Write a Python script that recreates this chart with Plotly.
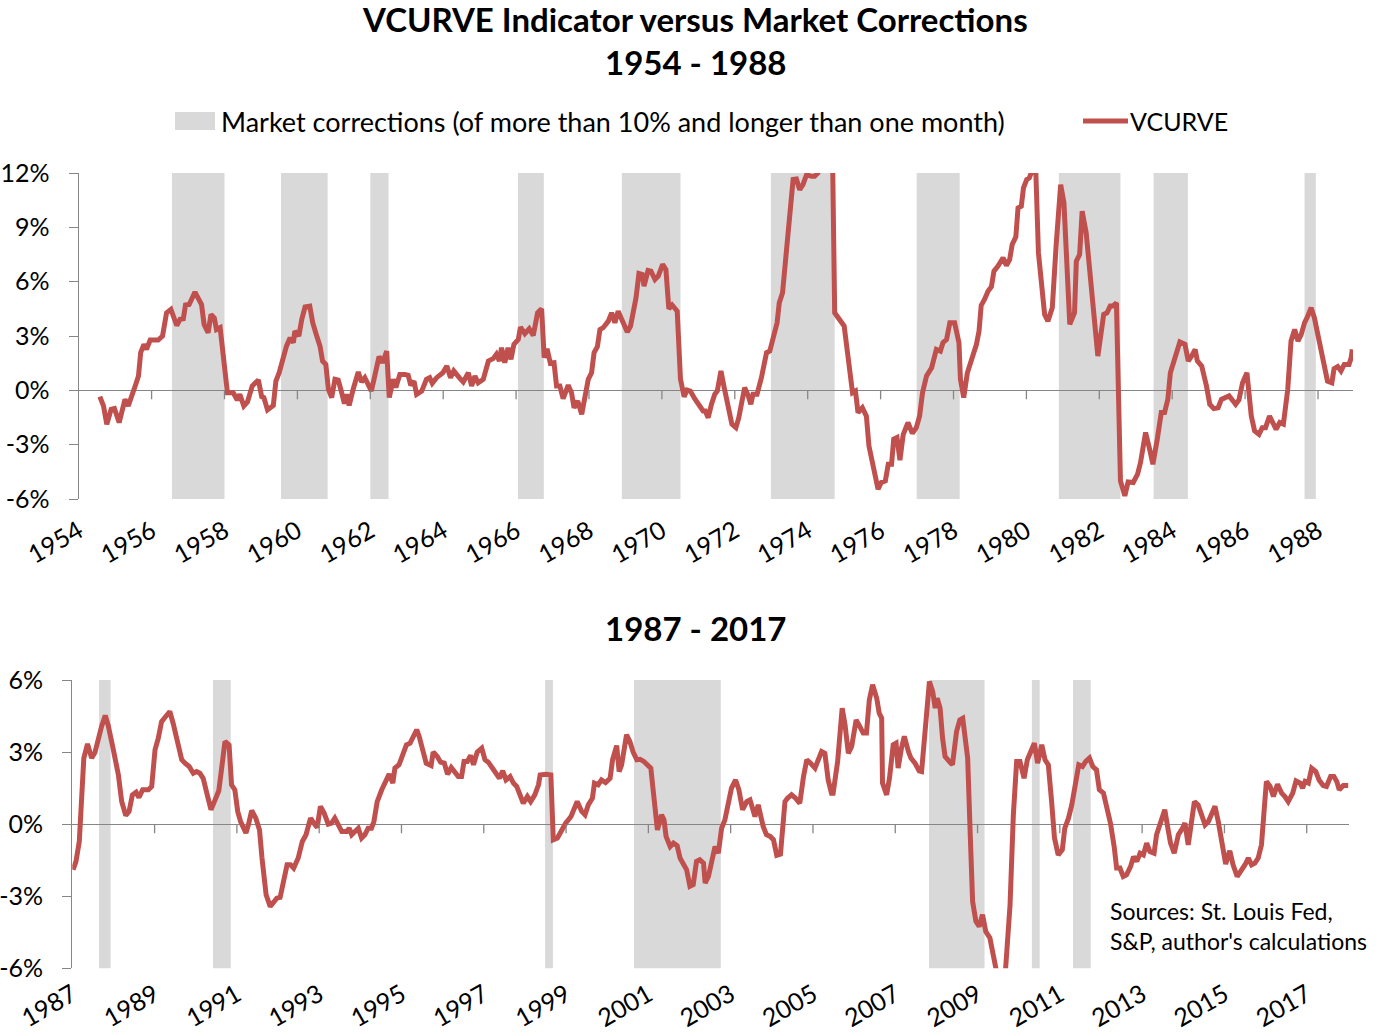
import plotly.graph_objects as go

# VCURVE readings, 1954-1988 panel (decimal year, percent)
top_years = [
    1954.58, 1954.68, 1954.77, 1954.89, 1954.98, 1955.11, 1955.27, 1955.36, 1955.55, 1955.64,
    1955.70, 1955.79, 1955.86, 1955.96, 1956.18, 1956.30, 1956.41, 1956.53, 1956.69, 1956.78,
    1956.87, 1956.93, 1957.03, 1957.19, 1957.37, 1957.44, 1957.55, 1957.63, 1957.72, 1957.78,
    1957.88, 1957.97, 1958.08, 1958.24, 1958.35, 1958.42, 1958.53, 1958.63, 1958.76, 1958.93,
    1959.02, 1959.08, 1959.18, 1959.34, 1959.41, 1959.50, 1959.59, 1959.70, 1959.80, 1959.89,
    1959.93, 1960.04, 1960.12, 1960.21, 1960.34, 1960.42, 1960.53, 1960.62, 1960.69, 1960.78,
    1960.85, 1960.94, 1961.03, 1961.12, 1961.19, 1961.29, 1961.35, 1961.42, 1961.53, 1961.67,
    1961.76, 1961.85, 1962.03, 1962.13, 1962.24, 1962.34, 1962.45, 1962.52, 1962.63, 1962.70,
    1962.81, 1962.95, 1963.04, 1963.11, 1963.20, 1963.27, 1963.41, 1963.54, 1963.63, 1963.70,
    1963.82, 1963.99, 1964.10, 1964.20, 1964.29, 1964.44, 1964.55, 1964.69, 1964.78, 1964.87,
    1964.96, 1965.10, 1965.24, 1965.37, 1965.46, 1965.54, 1965.60, 1965.69, 1965.78, 1965.86,
    1965.94, 1966.06, 1966.12, 1966.24, 1966.36, 1966.47, 1966.59, 1966.70, 1966.77, 1966.85,
    1966.94, 1967.04, 1967.11, 1967.20, 1967.29, 1967.43, 1967.52, 1967.59, 1967.69, 1967.80,
    1967.89, 1967.98, 1968.07, 1968.14, 1968.23, 1968.30, 1968.39, 1968.53, 1968.62, 1968.71,
    1968.80, 1968.92, 1969.05, 1969.14, 1969.29, 1969.37, 1969.46, 1969.51, 1969.62, 1969.70,
    1969.81, 1969.90, 1970.02, 1970.11, 1970.19, 1970.28, 1970.42, 1970.51, 1970.61, 1970.69,
    1970.78, 1970.90, 1971.02, 1971.13, 1971.19, 1971.27, 1971.36, 1971.45, 1971.52, 1971.62,
    1971.70, 1971.81, 1971.92, 1972.03, 1972.11, 1972.18, 1972.27, 1972.37, 1972.44, 1972.50,
    1972.61, 1972.73, 1972.87, 1972.96, 1973.08, 1973.16, 1973.22, 1973.31, 1973.42, 1973.51,
    1973.60, 1973.69, 1973.78, 1973.87, 1973.97, 1974.10, 1974.19, 1974.28, 1974.40, 1974.55,
    1974.68, 1974.74, 1974.88, 1975.00, 1975.11, 1975.23, 1975.31, 1975.38, 1975.50, 1975.61,
    1975.68, 1975.80, 1975.93, 1976.02, 1976.13, 1976.21, 1976.30, 1976.36, 1976.45, 1976.53,
    1976.62, 1976.75, 1976.87, 1976.98, 1977.07, 1977.15, 1977.26, 1977.40, 1977.53, 1977.64,
    1977.71, 1977.81, 1977.90, 1978.03, 1978.15, 1978.19, 1978.28, 1978.38, 1978.49, 1978.63,
    1978.70, 1978.76, 1978.85, 1978.95, 1979.04, 1979.11, 1979.22, 1979.36, 1979.45, 1979.54,
    1979.61, 1979.71, 1979.77, 1979.86, 1979.92, 1980.01, 1980.08, 1980.13, 1980.17, 1980.25,
    1980.33, 1980.41, 1980.50, 1980.59, 1980.71, 1980.82, 1980.94, 1981.03, 1981.09, 1981.19,
    1981.32, 1981.37, 1981.46, 1981.53, 1981.64, 1981.77, 1981.87, 1981.96, 1982.12, 1982.21,
    1982.30, 1982.37, 1982.47, 1982.58, 1982.70, 1982.79, 1982.93, 1983.05, 1983.13, 1983.27,
    1983.38, 1983.47, 1983.59, 1983.70, 1983.79, 1983.88, 1983.95, 1984.07, 1984.21, 1984.35,
    1984.44, 1984.53, 1984.63, 1984.69, 1984.81, 1984.94, 1985.03, 1985.14, 1985.26, 1985.35,
    1985.47, 1985.56, 1985.67, 1985.74, 1985.83, 1985.93, 1986.05, 1986.17, 1986.26, 1986.38,
    1986.47, 1986.56, 1986.67, 1986.76, 1986.85, 1986.95, 1987.05, 1987.17, 1987.26, 1987.36,
    1987.45, 1987.54, 1987.63, 1987.72, 1987.81, 1987.90, 1988.04, 1988.15, 1988.26, 1988.38,
    1988.44, 1988.54, 1988.63, 1988.72, 1988.85, 1988.91, 1988.94,
]
top_vcurve = [
    -0.35, -0.86, -1.87, -1.05, -1.00, -1.78, -0.50, -0.86, 0.24, 0.79,
    2.08, 2.54, 2.26, 2.78, 2.78, 3.00, 4.28, 4.47, 3.58, 3.92,
    3.95, 4.71, 4.74, 5.42, 4.74, 3.64, 3.18, 4.19, 4.00, 3.36,
    3.46, 1.71, -0.13, -0.13, -0.53, -0.22, -0.86, -0.64, 0.24, 0.57,
    -0.35, -0.40, -1.08, -0.83, 0.51, 0.97, 1.71, 2.44, 2.90, 2.63,
    3.27, 3.00, 3.92, 4.60, 4.65, 3.73, 3.00, 2.44, 1.62, 1.43,
    0.06, -0.40, 0.61, 0.57, 0.06, -0.74, -0.22, -0.83, 0.06, 1.01,
    0.46, 0.70, -0.04, 0.79, 1.86, 1.53, 2.17, -0.40, 0.61, 0.15,
    0.88, 0.88, 0.83, 0.28, 0.51, -0.22, -0.04, 0.61, 0.70, 0.39,
    0.70, 0.97, 1.34, 0.70, 1.07, 0.70, 0.46, 0.97, 0.24, 0.79,
    0.42, 0.61, 1.62, 1.75, 1.99, 1.62, 2.35, 1.53, 2.35, 1.71,
    2.54, 2.81, 3.49, 3.13, 3.40, 3.03, 4.28, 4.50, 1.80, 2.30,
    1.49, 1.53, 0.24, 0.24, -0.46, 0.28, -0.13, -0.96, -0.59, -1.32,
    -0.50, 0.61, 0.97, 2.08, 2.41, 3.36, 3.46, 3.82, 4.28, 3.73,
    4.37, 3.88, 3.22, 3.55, 5.11, 6.45, 6.40, 5.75, 6.62, 6.58,
    6.12, 6.31, 6.95, 6.67, 4.50, 4.71, 4.37, 0.61, -0.35, 0.02,
    -0.04, -0.46, -0.86, -1.14, -1.14, -1.51, -0.77, -0.22, -0.04, 1.07,
    0.24, -0.86, -1.87, -2.06, -1.51, -0.77, 0.15, -0.31, -0.77, -0.22,
    -0.22, 0.70, 2.08, 2.17, 3.18, 3.73, 4.83, 5.39, 7.78, 9.71,
    11.64, 11.67, 11.08, 11.36, 11.91, 11.82, 11.82, 12.00, 12.90, 13.40,
    13.20, 4.28, 3.92, 3.55, 1.80, -0.13, -0.04, -1.23, -0.96, -1.42,
    -3.07, -4.17, -5.46, -5.09, -5.00, -4.08, -4.08, -2.70, -2.61, -3.85,
    -2.45, -1.78, -2.37, -2.06, -1.42, -0.13, 0.79, 1.25, 2.26, 2.17,
    2.63, 2.81, 3.73, 3.73, 2.63, 0.61, -0.40, 0.97, 1.71, 2.54,
    3.27, 4.69, 5.02, 5.48, 5.72, 6.58, 6.86, 7.32, 6.89, 7.22,
    8.05, 8.47, 10.07, 10.17, 11.18, 11.64, 11.73, 12.00, 12.50, 12.60,
    7.60, 6.12, 4.19, 3.82, 4.56, 8.14, 11.36, 10.35, 7.41, 3.64,
    4.28, 7.13, 7.50, 9.89, 8.69, 6.12, 3.55, 1.89, 4.19, 4.28,
    4.65, 4.65, 4.83, -5.00, -5.83, -5.06, -5.09, -4.63, -3.99, -2.33,
    -3.25, -4.08, -2.70, -1.23, -1.23, -0.50, 0.97, 1.80, 2.67, 2.54,
    1.62, 1.89, 2.26, 1.62, 1.34, 0.24, -0.77, -1.01, -0.96, -0.50,
    -0.40, -0.31, -0.59, -0.77, -0.53, 0.42, 0.97, -1.42, -2.24, -2.43,
    -2.06, -2.06, -1.42, -1.87, -2.15, -1.78, -1.87, 0.06, 2.72, 3.36,
    2.72, 3.09, 3.73, 4.10, 4.56, 4.01, 2.72, 1.80, 0.51, 0.42,
    1.19, 1.31, 1.07, 1.43, 1.43, 1.80, 2.26,
]

# VCURVE readings, 1987-2017 panel
bottom_years = [
    1987.02, 1987.09, 1987.17, 1987.23, 1987.28, 1987.37, 1987.47, 1987.55, 1987.63, 1987.71,
    1987.80, 1987.87, 1987.99, 1988.12, 1988.20, 1988.30, 1988.38, 1988.46, 1988.55, 1988.62,
    1988.71, 1988.85, 1988.93, 1989.01, 1989.09, 1989.17, 1989.27, 1989.37, 1989.45, 1989.54,
    1989.66, 1989.74, 1989.84, 1989.94, 1990.02, 1990.10, 1990.18, 1990.28, 1990.37, 1990.47,
    1990.56, 1990.63, 1990.71, 1990.81, 1990.87, 1990.95, 1991.02, 1991.09, 1991.22, 1991.28,
    1991.36, 1991.46, 1991.55, 1991.61, 1991.71, 1991.81, 1991.91, 1991.97, 1992.05, 1992.14,
    1992.22, 1992.30, 1992.38, 1992.49, 1992.59, 1992.68, 1992.79, 1992.90, 1992.95, 1993.03,
    1993.12, 1993.22, 1993.30, 1993.38, 1993.46, 1993.55, 1993.67, 1993.73, 1993.79, 1993.87,
    1993.95, 1994.03, 1994.11, 1994.19, 1994.27, 1994.33, 1994.41, 1994.52, 1994.60, 1994.70,
    1994.79, 1994.84, 1994.94, 1995.04, 1995.12, 1995.21, 1995.29, 1995.37, 1995.43, 1995.52,
    1995.60, 1995.72, 1995.77, 1995.87, 1995.95, 1996.04, 1996.12, 1996.21, 1996.30, 1996.38,
    1996.46, 1996.52, 1996.60, 1996.68, 1996.75, 1996.84, 1996.95, 1997.03, 1997.11, 1997.21,
    1997.31, 1997.38, 1997.46, 1997.54, 1997.64, 1997.72, 1997.80, 1997.88, 1997.96, 1998.06,
    1998.14, 1998.24, 1998.33, 1998.37, 1998.51, 1998.63, 1998.69, 1998.79, 1998.89, 1998.99,
    1999.12, 1999.22, 1999.27, 1999.38, 1999.46, 1999.54, 1999.64, 1999.69, 1999.78, 1999.86,
    1999.96, 2000.07, 2000.13, 2000.23, 2000.29, 2000.35, 2000.47, 2000.55, 2000.63, 2000.72,
    2000.80, 2000.89, 2001.00, 2001.06, 2001.12, 2001.19, 2001.22, 2001.32, 2001.38, 2001.43,
    2001.53, 2001.61, 2001.70, 2001.77, 2001.85, 2001.93, 2002.01, 2002.09, 2002.17, 2002.25,
    2002.34, 2002.38, 2002.46, 2002.54, 2002.62, 2002.70, 2002.78, 2002.86, 2002.94, 2003.02,
    2003.12, 2003.20, 2003.29, 2003.39, 2003.47, 2003.59, 2003.67, 2003.73, 2003.79, 2003.87,
    2003.96, 2004.04, 2004.12, 2004.21, 2004.32, 2004.38, 2004.48, 2004.56, 2004.68, 2004.77,
    2004.85, 2004.94, 2005.05, 2005.13, 2005.21, 2005.29, 2005.37, 2005.45, 2005.49, 2005.60,
    2005.66, 2005.71, 2005.78, 2005.86, 2005.94, 2006.05, 2006.14, 2006.22, 2006.30, 2006.37,
    2006.45, 2006.55, 2006.61, 2006.67, 2006.69, 2006.79, 2006.86, 2006.95, 2007.02, 2007.07,
    2007.15, 2007.22, 2007.32, 2007.38, 2007.48, 2007.58, 2007.64, 2007.72, 2007.83, 2007.91,
    2007.97, 2008.02, 2008.09, 2008.15, 2008.21, 2008.31, 2008.39, 2008.49, 2008.57, 2008.64,
    2008.69, 2008.76, 2008.82, 2008.88, 2008.96, 2009.04, 2009.12, 2009.20, 2009.30, 2009.38,
    2009.46, 2009.55, 2009.65, 2009.79, 2009.87, 2009.95, 2010.03, 2010.13, 2010.21, 2010.29,
    2010.38, 2010.46, 2010.56, 2010.64, 2010.72, 2010.80, 2010.87, 2010.96, 2011.06, 2011.12,
    2011.21, 2011.29, 2011.38, 2011.46, 2011.55, 2011.63, 2011.72, 2011.80, 2011.89, 2011.96,
    2012.06, 2012.14, 2012.23, 2012.32, 2012.38, 2012.46, 2012.54, 2012.62, 2012.72, 2012.79,
    2012.87, 2012.95, 2013.03, 2013.11, 2013.19, 2013.29, 2013.35, 2013.47, 2013.55, 2013.64,
    2013.69, 2013.78, 2013.88, 2013.98, 2014.04, 2014.12, 2014.20, 2014.27, 2014.36, 2014.45,
    2014.53, 2014.61, 2014.69, 2014.77, 2014.85, 2014.93, 2015.03, 2015.13, 2015.21, 2015.31,
    2015.40, 2015.50, 2015.58, 2015.66, 2015.74, 2015.82, 2015.90, 2015.97, 2016.02, 2016.11,
    2016.19, 2016.29, 2016.39, 2016.47, 2016.55, 2016.66, 2016.74, 2016.84, 2016.90, 2016.96,
    2017.04, 2017.12, 2017.22, 2017.30, 2017.40, 2017.48, 2017.58, 2017.66, 2017.73, 2017.79,
    2017.89, 2018.01,
]
bottom_vcurve = [
    -1.90, -1.55, -0.72, 0.80, 2.75, 3.34, 2.75, 2.98, 3.61, 4.06,
    4.52, 4.13, 3.16, 2.05, 0.94, 0.36, 0.53, 1.22, 1.33, 1.11,
    1.43, 1.43, 1.57, 3.09, 3.58, 4.27, 4.48, 4.69, 4.20, 3.44,
    2.68, 2.54, 2.40, 2.12, 2.19, 2.12, 1.91, 1.22, 0.60, 1.01,
    1.39, 2.33, 3.44, 3.30, 1.64, 1.43, 0.53, 0.11, -0.37, -0.03,
    0.57, 0.25, -0.24, -1.41, -2.94, -3.43, -3.22, -3.08, -3.05, -2.39,
    -1.69, -1.69, -1.83, -1.41, -0.72, -0.44, 0.25, -0.03, -0.14, 0.74,
    0.46, 0.00, 0.04, 0.25, -0.03, -0.31, -0.31, -0.17, -0.44, -0.31,
    -0.17, -0.58, -0.44, -0.17, -0.17, 0.11, 0.94, 1.43, 1.78, 2.08,
    1.71, 2.33, 2.47, 2.95, 3.30, 3.37, 3.72, 3.93, 3.65, 3.09,
    2.54, 2.44, 3.00, 2.82, 2.58, 2.54, 2.08, 2.36, 2.12, 1.98,
    1.98, 2.61, 2.61, 2.86, 2.47, 3.00, 3.16, 2.68, 2.58, 2.30,
    2.05, 1.91, 2.22, 1.84, 1.98, 1.71, 1.57, 1.15, 0.87, 1.15,
    0.94, 1.22, 1.64, 2.05, 2.08, 2.05, -0.65, -0.58, -0.24, 0.04,
    0.32, 0.67, 0.94, 0.53, 0.39, 0.80, 1.08, 1.71, 1.64, 1.84,
    1.73, 1.91, 2.68, 3.27, 2.19, 2.47, 3.72, 3.44, 3.00, 2.68,
    2.70, 2.61, 2.40, 2.33, 1.36, 0.11, -0.24, 0.39, 0.18, -0.51,
    -0.93, -0.79, -0.90, -1.41, -1.62, -1.90, -2.59, -2.52, -1.55, -1.48,
    -1.62, -2.45, -2.18, -1.41, -0.93, -1.21, -0.17, 0.18, 0.80, 1.50,
    1.84, 1.43, 0.60, 0.94, 1.01, 0.32, 0.80, 0.25, -0.10, -0.44,
    -0.51, -0.65, -1.30, -1.25, 0.94, 1.08, 1.22, 1.11, 0.87, 1.98,
    2.68, 2.54, 2.33, 2.68, 3.02, 2.95, 1.84, 1.29, 1.29, 2.61,
    3.79, 4.83, 4.13, 2.95, 3.23, 4.34, 4.06, 3.79, 3.79, 5.17,
    5.80, 5.24, 4.62, 4.41, 1.71, 1.22, 1.91, 3.30, 3.37, 2.33,
    3.16, 3.65, 3.02, 2.75, 2.54, 2.22, 2.19, 3.86, 5.94, 5.52,
    4.83, 5.24, 4.83, 3.58, 2.82, 2.61, 2.47, 3.86, 4.34, 4.41,
    3.58, 2.75, -0.31, -3.22, -4.05, -4.26, -3.77, -4.47, -4.74, -5.44,
    -5.99, -6.90, -6.80, -3.36, 0.39, 2.61, 2.61, 1.91, 2.68, 3.02,
    3.37, 2.54, 3.30, 2.68, 2.47, 0.94, -0.58, -1.28, -1.07, -0.17,
    0.25, 0.80, 1.64, 2.47, 2.40, 2.61, 2.75, 2.40, 2.26, 1.43,
    1.29, 0.74, 0.04, -0.93, -1.83, -1.83, -2.18, -2.11, -1.76, -1.35,
    -1.55, -1.21, -1.28, -0.79, -1.14, -1.21, -0.44, 0.18, 0.60, -0.31,
    -0.79, -1.21, -0.44, -0.17, 0.04, -0.86, 0.25, 0.94, 0.80, 0.39,
    -0.03, 0.11, 0.46, 0.74, 0.11, -0.72, -1.66, -1.11, -1.69, -2.18,
    -1.97, -1.69, -1.41, -1.69, -1.62, -1.41, -0.86, 0.53, 1.78, 1.57,
    1.15, 1.66, 1.29, 1.15, 0.94, 1.29, 1.80, 1.71, 1.50, 1.78,
    1.71, 2.33, 2.19, 1.84, 1.61, 1.57, 1.98, 1.98, 1.78, 1.43,
    1.61, 1.61,
]

# market corrections (start, end) in decimal years
top_corrections = [
    (1956.56, 1958.00), (1959.55, 1960.83), (1962.00, 1962.50), (1966.05, 1966.76),
    (1968.90, 1970.51), (1972.99, 1974.74), (1976.99, 1978.17), (1980.89, 1982.58),
    (1983.49, 1984.43), (1987.63, 1987.94),
]
bottom_corrections = [
    (1987.65, 1987.93), (1990.42, 1990.85), (1998.49, 1998.68), (2000.65, 2002.76),
    (2007.82, 2009.17), (2010.32, 2010.51), (2011.32, 2011.75),
]

top_ticks = list(range(1954, 1989, 2))
bottom_ticks = list(range(1987, 2018, 2))
top_yticks = [-6, -3, 0, 3, 6, 9, 12]
bottom_yticks = [-6, -3, 0, 3, 6]
legend_labels = ["Market corrections (of more than 10% and longer than one month)", "VCURVE"]

RED = "#C0504D"
BAND = "#D9D9D9"
AXIS = "#868686"
FONT = "Lato"

W, H = 1390, 1033
# plot areas in pixels (left, right, top, bottom)
top_px = (78.7, 1353, 173, 499)
bot_px = (72.3, 1348.7, 680, 968.3)


def xdom(px):
    return [px[0] / W, px[1] / W]


def ydom(px):
    return [1 - px[3] / H, 1 - px[2] / H]


def px_x(p):
    return p / W


def px_y(p):
    return 1 - p / H


fig = go.Figure()

fig.add_trace(go.Scatter(
    x=top_years, y=top_vcurve, mode="lines", name="VCURVE",
    line=dict(color=RED, width=5), showlegend=False, xaxis="x", yaxis="y",
))
fig.add_trace(go.Scatter(
    x=bottom_years, y=bottom_vcurve, mode="lines", name="VCURVE",
    line=dict(color=RED, width=5), showlegend=False, xaxis="x2", yaxis="y2",
))

shapes = []
for a, b in top_corrections:
    shapes.append(dict(type="rect", xref="x", yref="y domain", x0=a, x1=b, y0=0, y1=1,
                       fillcolor=BAND, line=dict(width=0), layer="below"))
for a, b in bottom_corrections:
    shapes.append(dict(type="rect", xref="x2", yref="y2 domain", x0=a, x1=b, y0=0, y1=1,
                       fillcolor=BAND, line=dict(width=0), layer="below"))
# tick marks hanging below the zero line
for t in top_ticks[1:]:
    shapes.append(dict(type="line", xref="x", yref="y", x0=t, x1=t, ysizemode="pixel",
                       yanchor=0, y0=0, y1=-9, line=dict(color=AXIS, width=1.3)))
for t in bottom_ticks[1:]:
    shapes.append(dict(type="line", xref="x2", yref="y2", x0=t, x1=t, ysizemode="pixel",
                       yanchor=0, y0=0, y1=-9, line=dict(color=AXIS, width=1.3)))

# legend keys
shapes.append(dict(type="rect", xref="paper", yref="paper", x0=px_x(175), x1=px_x(215),
                   y0=px_y(130), y1=px_y(112), fillcolor=BAND, line=dict(width=0)))
shapes.append(dict(type="line", xref="paper", yref="paper", x0=px_x(1083), x1=px_x(1128),
                   y0=px_y(121), y1=px_y(121), line=dict(color=RED, width=5)))

tickfont = dict(family=FONT, size=25, color="black")
xcommon = dict(showline=False, showgrid=False, zeroline=False, ticks="", tickangle=-30,
               tickfont=tickfont, tickformat="d", fixedrange=True, automargin=False)
ycommon = dict(showline=True, linecolor=AXIS, linewidth=1.3, showgrid=False, ticks="outside",
               ticklen=9, tickcolor=AXIS, tickwidth=1.3, zeroline=True, zerolinecolor=AXIS,
               zerolinewidth=1.3, tickmode="array", tickfont=tickfont, ticklabelstandoff=14,
               fixedrange=True, automargin=False)

fig.update_layout(
    width=W, height=H,
    margin=dict(l=0, r=0, t=0, b=0, autoexpand=False),
    paper_bgcolor="white", plot_bgcolor="white",
    font=dict(family=FONT, color="black"),
    showlegend=False,
    xaxis=dict(domain=xdom(top_px), range=[1954, 1988.96], tickvals=top_ticks,
               anchor="y", ticklabelstandoff=12, **xcommon),
    yaxis=dict(domain=ydom(top_px), range=[-6, 12], tickvals=top_yticks,
               ticktext=[f"{v}%" for v in top_yticks], anchor="x", **ycommon),
    xaxis2=dict(domain=xdom(bot_px), range=[1987, 2018.02], tickvals=bottom_ticks,
                anchor="y2", ticklabelstandoff=6, **xcommon),
    yaxis2=dict(domain=ydom(bot_px), range=[-6, 6], tickvals=bottom_yticks,
                ticktext=[f"{v}%" for v in bottom_yticks], anchor="x2", **ycommon),
    shapes=shapes,
    annotations=[
        dict(text="<b>VCURVE Indicator versus Market Corrections</b>", x=0.5, y=px_y(19),
             xref="paper", yref="paper", showarrow=False, yanchor="middle",
             font=dict(family=FONT, size=33)),
        dict(text="<b>1954 - 1988</b>", x=0.5, y=px_y(62), xref="paper", yref="paper",
             showarrow=False, yanchor="middle", font=dict(family=FONT, size=33)),
        dict(text="<b>1987 - 2017</b>", x=0.5, y=px_y(628), xref="paper", yref="paper",
             showarrow=False, yanchor="middle", font=dict(family=FONT, size=33)),
        dict(text=legend_labels[0], x=px_x(219), y=px_y(121), xref="paper", yref="paper",
             showarrow=False, xanchor="left", yanchor="middle", font=dict(family=FONT, size=27)),
        dict(text=legend_labels[1], x=px_x(1128), y=px_y(121), xref="paper", yref="paper",
             showarrow=False, xanchor="left", yanchor="middle", font=dict(family=FONT, size=25)),
        dict(text="Sources: St. Louis Fed,<br>S&P, author's calculations", x=px_x(1108),
             y=px_y(926), xref="paper", yref="paper", showarrow=False, xanchor="left",
             yanchor="middle", align="left", font=dict(family=FONT, size=23)),
    ],
)

# the page body has a default 8px margin; drop it so the figure fills the window
fig.write_html("out.html", config={"displayModeBar": False},
               post_script="document.body.style.margin = '0';")
